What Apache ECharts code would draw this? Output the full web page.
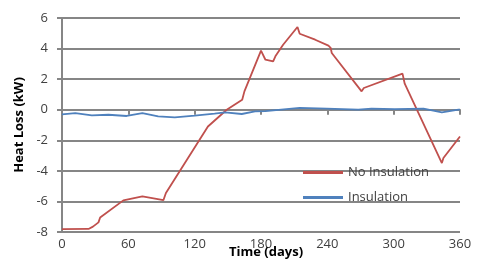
<!DOCTYPE html>
<html><head><meta charset="utf-8">
<script src="https://cdn.jsdelivr.net/npm/echarts@6/dist/echarts.min.js"></script>
<style>html,body{margin:0;padding:0;background:#fff}#c{width:480px;height:270px}</style>
</head><body><div id="c"></div>
<script>
var xTicks = [0, 60, 120, 180, 240, 300, 360];
var yTicks = [-8, -6, -4, -2, 0, 2, 4, 6];
var seriesNames = ['No Insulation', 'Insulation'];
var noInsDays = [0, 24, 28, 33, 34.5, 55.5, 72.7, 91.7, 94, 132, 149, 163, 165, 180, 184, 191, 193, 200, 213, 215, 229, 241, 243, 244, 271, 273, 308, 310, 343.6, 345, 360];
var noInsKw   = [-7.81, -7.8, -7.65, -7.37, -7.05, -5.93, -5.67, -5.92, -5.45, -1.1, 0, 0.65, 1.2, 3.86, 3.27, 3.16, 3.49, 4.25, 5.41, 4.97, 4.58, 4.19, 4.05, 3.71, 1.2, 1.42, 2.36, 1.7, -3.49, -3.16, -1.75];
var insDays = [0, 12, 27, 42, 58.5, 72.7, 87, 102, 120, 138, 147.5, 162.6, 174.6, 184, 215, 223, 239.5, 268, 280, 301, 327, 343.6, 358.6, 360];
var insKw   = [-0.3, -0.22, -0.37, -0.33, -0.41, -0.22, -0.44, -0.5, -0.39, -0.26, -0.17, -0.28, -0.11, -0.09, 0.12, 0.11, 0.07, 0, 0.07, 0.04, 0.07, -0.17, 0, 0];

function pairs(xs, ys) { return xs.map(function (x, i) { return [x, ys[i]]; }); }

var FONT = 'Open Sans';
var GRID = '#868686';
var gl = {color: GRID, width: 2, type: 'solid', opacity: 1};
var chart = echarts.init(document.getElementById('c'), null, {renderer: 'canvas'});
chart.setOption({
  animation: false,
  backgroundColor: '#fff',
  textStyle: {fontFamily: FONT},
  title: {
    text: 'Time (days)', left: 261, top: 241, textAlign: 'center',
    textStyle: {fontFamily: FONT, fontSize: 13, fontWeight: 'bold', color: '#000'}
  },
  grid: {left: 62, right: 20, top: 18, bottom: 38},
  legend: {
    orient: 'vertical', left: 298, top: 161, itemWidth: 40, itemHeight: 3, itemGap: 12,
    icon: 'rect',
    data: seriesNames,
    textStyle: {fontFamily: FONT, fontSize: 13, color: '#404040'}
  },
  xAxis: {
    type: 'value', min: xTicks[0], max: xTicks[xTicks.length - 1], interval: 60,
    axisLine: {show: true, onZero: true, lineStyle: gl},
    axisTick: {show: true, length: 5, lineStyle: gl},
    axisLabel: {margin: 6, fontSize: 13, color: '#404040', fontFamily: FONT},
    splitLine: {show: false}
  },
  yAxis: {
    type: 'value', min: yTicks[0], max: yTicks[yTicks.length - 1], interval: 2,
    name: 'Heat Loss (kW)', nameLocation: 'middle', nameGap: 33,
    nameTextStyle: {fontFamily: FONT, fontSize: 13, fontWeight: 'bold', color: '#000'},
    axisLine: {show: true, onZero: false, lineStyle: gl},
    axisTick: {show: true, length: 5, lineStyle: gl},
    axisLabel: {margin: 14, fontSize: 13, color: '#404040', fontFamily: FONT},
    splitLine: {show: true, lineStyle: gl}
  },
  series: [
    {name: seriesNames[0], type: 'line', data: pairs(noInsDays, noInsKw), symbol: 'none', z: 3,
     lineStyle: {color: '#C0504D', width: 1.8}, itemStyle: {color: '#C0504D'}},
    {name: seriesNames[1], type: 'line', data: pairs(insDays, insKw), symbol: 'none', z: 3,
     lineStyle: {color: '#4F81BD', width: 1.8}, itemStyle: {color: '#4F81BD'}}
  ]
});
</script></body></html>
